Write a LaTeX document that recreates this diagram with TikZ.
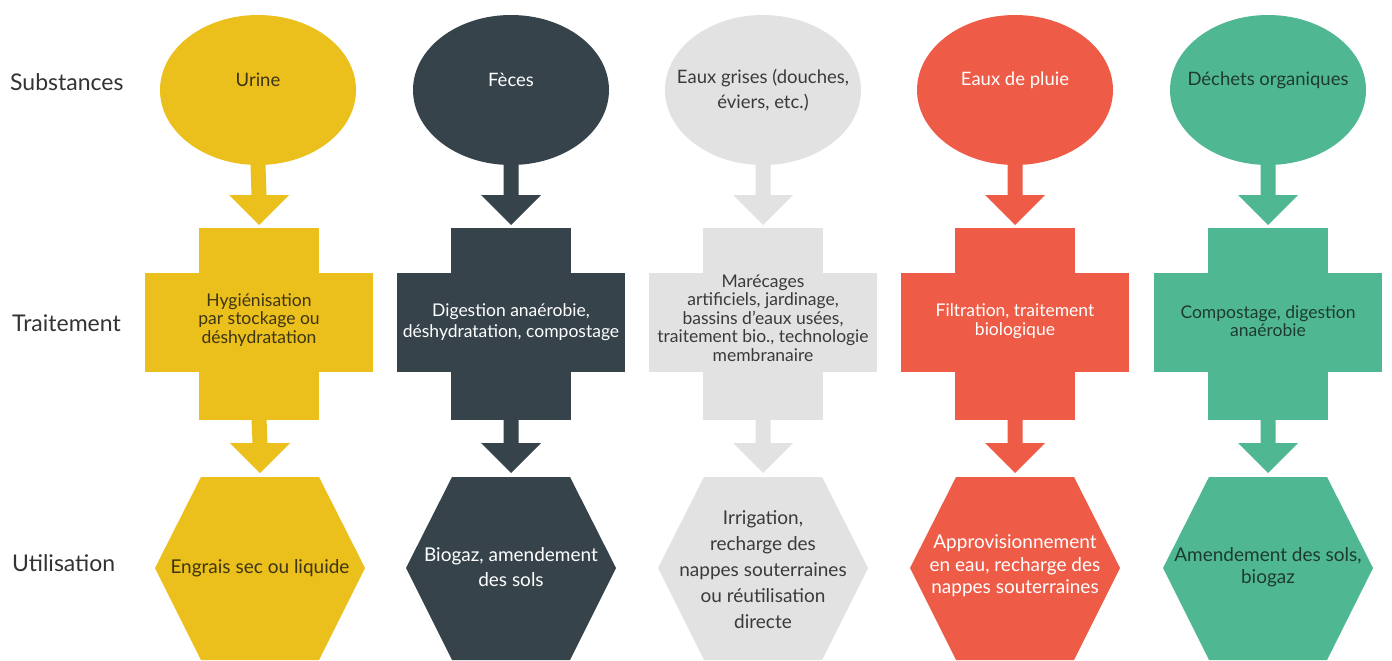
\documentclass[tikz,border=0pt]{standalone}
\usepackage{fontspec}
\setmainfont{Lato}
\usetikzlibrary{shapes.geometric,calc}

\definecolor{cyel}{HTML}{EBBF1C}
\definecolor{cdark}{HTML}{36434B}
\definecolor{cgrey}{HTML}{E2E2E2}
\definecolor{cred}{HTML}{EE5B47}
\definecolor{cgreen}{HTML}{4FB892}
\definecolor{tyel}{HTML}{3D3514}
\definecolor{tgrey}{HTML}{3A3A3A}
\definecolor{tgreen}{HTML}{1E3B31}
\definecolor{thead}{HTML}{333333}

% block arrow: stem from #2 down to the tip #3
\newcommand\flowarrow[3]{%
  \fill[#1] ($(#2)+(-7.5,0)$) -- ($(#3)+(-7.5,-30)$) -- ($(#3)+(-30,-30)$) -- (#3)
    -- ($(#3)+(30,-30)$) -- ($(#3)+(7.5,-30)$) -- ($(#2)+(7.5,0)$) -- cycle;}
% cross-shaped treatment block around centre #2
\newcommand\crossblock[2]{%
  \fill[#1] ($(#2)+(-60,-95)$) rectangle ($(#2)+(60,97)$);
  \fill[#1] ($(#2)+(-114,-50)$) rectangle ($(#2)+(114,49)$);}
% hexagonal use block around centre #2
\newcommand\hexblock[2]{%
  \fill[#1] ($(#2)+(-59,-91)$) -- ($(#2)+(59,-91)$) -- ($(#2)+(105,0)$)
    -- ($(#2)+(59,92)$) -- ($(#2)+(-59,92)$) -- ($(#2)+(-105,0)$) -- cycle;}

\begin{document}
\begin{tikzpicture}[x=1pt,y=-1pt,
  header/.style={anchor=west, inner sep=0pt, text=thead, font=\fontsize{23}{27}\selectfont},
  subst/.style={ellipse, minimum width=196pt, minimum height=150pt, inner sep=0pt},
  stxt/.style={align=center, inner sep=0pt, font=\fontsize{18.5}{25}\selectfont},
  ttxt/.style={align=center, inner sep=0pt, font=\fontsize{17.5}{18.5}\selectfont},
  utxt/.style={align=center, inner sep=0pt, font=\fontsize{19}{24}\selectfont}]
\useasboundingbox (0,0) rectangle (1392,661);
\fill[white] (0,0) rectangle (1392,661);

% row headings
\node[header] (h1) at (10,82) {Substances};
\node[header] (h2) at (12,323) {Traitement};
\node[header] (h3) at (12,563) {Utilisation};

% column 1: urine
\node[subst, fill=cyel] (s1) at (258,90) {};
\node[stxt, text=tyel] (s1t) at (258,80) {Urine};
\coordinate (t1) at (259,323);
\coordinate (u1) at (260,568);
\crossblock{cyel}{t1}
\hexblock{cyel}{u1}
\coordinate (a1) at ($(t1)+(0,-98)$);
\coordinate (b1) at ($(t1)+(0,95)$);
\coordinate (c1) at ($(u1)+(0,-95)$);
\flowarrow{cyel}{s1.south}{a1}
\flowarrow{cyel}{b1}{c1}
\node[ttxt, text=tyel] (t1t) at (259,320) {Hygiénisation\\par stockage ou\\déshydratation};
\node[utxt, text=tyel] (u1t) at (260,568) {Engrais sec ou liquide};

% column 2: faeces
\node[subst, fill=cdark] (s2) at (511,90) {};
\node[stxt, text=white] (s2t) at (511,80) {Fèces};
\coordinate (t2) at (511,323);
\coordinate (u2) at (511,568);
\crossblock{cdark}{t2}
\hexblock{cdark}{u2}
\coordinate (a2) at ($(t2)+(0,-98)$);
\coordinate (b2) at ($(t2)+(0,95)$);
\coordinate (c2) at ($(u2)+(0,-95)$);
\flowarrow{cdark}{s2.south}{a2}
\flowarrow{cdark}{b2}{c2}
\node[ttxt, text=white, font=\fontsize{17.5}{21}\selectfont] (t2t) at (511,322) {Digestion anaérobie,\\déshydratation, compostage};
\node[utxt, text=white, font=\fontsize{19}{25}\selectfont] (u2t) at (511,567) {Biogaz, amendement\\des sols};

% column 3: grey water
\node[subst, fill=cgrey] (s3) at (763,90) {};
\node[stxt, text=tgrey] (s3t) at (763,90) {Eaux grises (douches,\\éviers, etc.)};
\coordinate (t3) at (763,323);
\coordinate (u3) at (763,568);
\crossblock{cgrey}{t3}
\hexblock{cgrey}{u3}
\coordinate (a3) at ($(t3)+(0,-98)$);
\coordinate (b3) at ($(t3)+(0,95)$);
\coordinate (c3) at ($(u3)+(0,-95)$);
\flowarrow{cgrey}{s3.south}{a3}
\flowarrow{cgrey}{b3}{c3}
\node[ttxt, text=tgrey] (t3t) at (763,318) {Marécages\\artificiels, jardinage,\\bassins d’eaux usées,\\traitement bio., technologie\\membranaire};
\node[utxt, text=tgrey, font=\fontsize{19}{26}\selectfont] (u3t) at (763,570) {Irrigation,\\recharge des\\nappes souterraines\\ou réutilisation\\directe};

% column 4: rain water
\node[subst, fill=cred] (s4) at (1015,90) {};
\node[stxt, text=white] (s4t) at (1015,80) {Eaux de pluie};
\coordinate (t4) at (1015,323);
\coordinate (u4) at (1015,568);
\crossblock{cred}{t4}
\hexblock{cred}{u4}
\coordinate (a4) at ($(t4)+(0,-98)$);
\coordinate (b4) at ($(t4)+(0,95)$);
\coordinate (c4) at ($(u4)+(0,-95)$);
\flowarrow{cred}{s4.south}{a4}
\flowarrow{cred}{b4}{c4}
\node[ttxt, text=white] (t4t) at (1015,321) {Filtration, traitement\\biologique};
\node[utxt, text=white, font=\fontsize{19}{22.5}\selectfont] (u4t) at (1015,566) {Approvisionnement\\en eau, recharge des\\nappes souterraines};

% column 5: organic waste
\node[subst, fill=cgreen] (s5) at (1268,90) {};
\node[stxt, text=tgreen] (s5t) at (1268,80) {Déchets organiques};
\coordinate (t5) at (1268,323);
\coordinate (u5) at (1268,568);
\crossblock{cgreen}{t5}
\hexblock{cgreen}{u5}
\coordinate (a5) at ($(t5)+(0,-98)$);
\coordinate (b5) at ($(t5)+(0,95)$);
\coordinate (c5) at ($(u5)+(0,-95)$);
\flowarrow{cgreen}{s5.south}{a5}
\flowarrow{cgreen}{b5}{c5}
\node[ttxt, text=tgreen] (t5t) at (1268,321) {Compostage, digestion\\anaérobie};
\node[utxt, text=tgreen, font=\fontsize{19}{22}\selectfont] (u5t) at (1268,567) {Amendement des sols,\\biogaz};
\end{tikzpicture}
\end{document}
